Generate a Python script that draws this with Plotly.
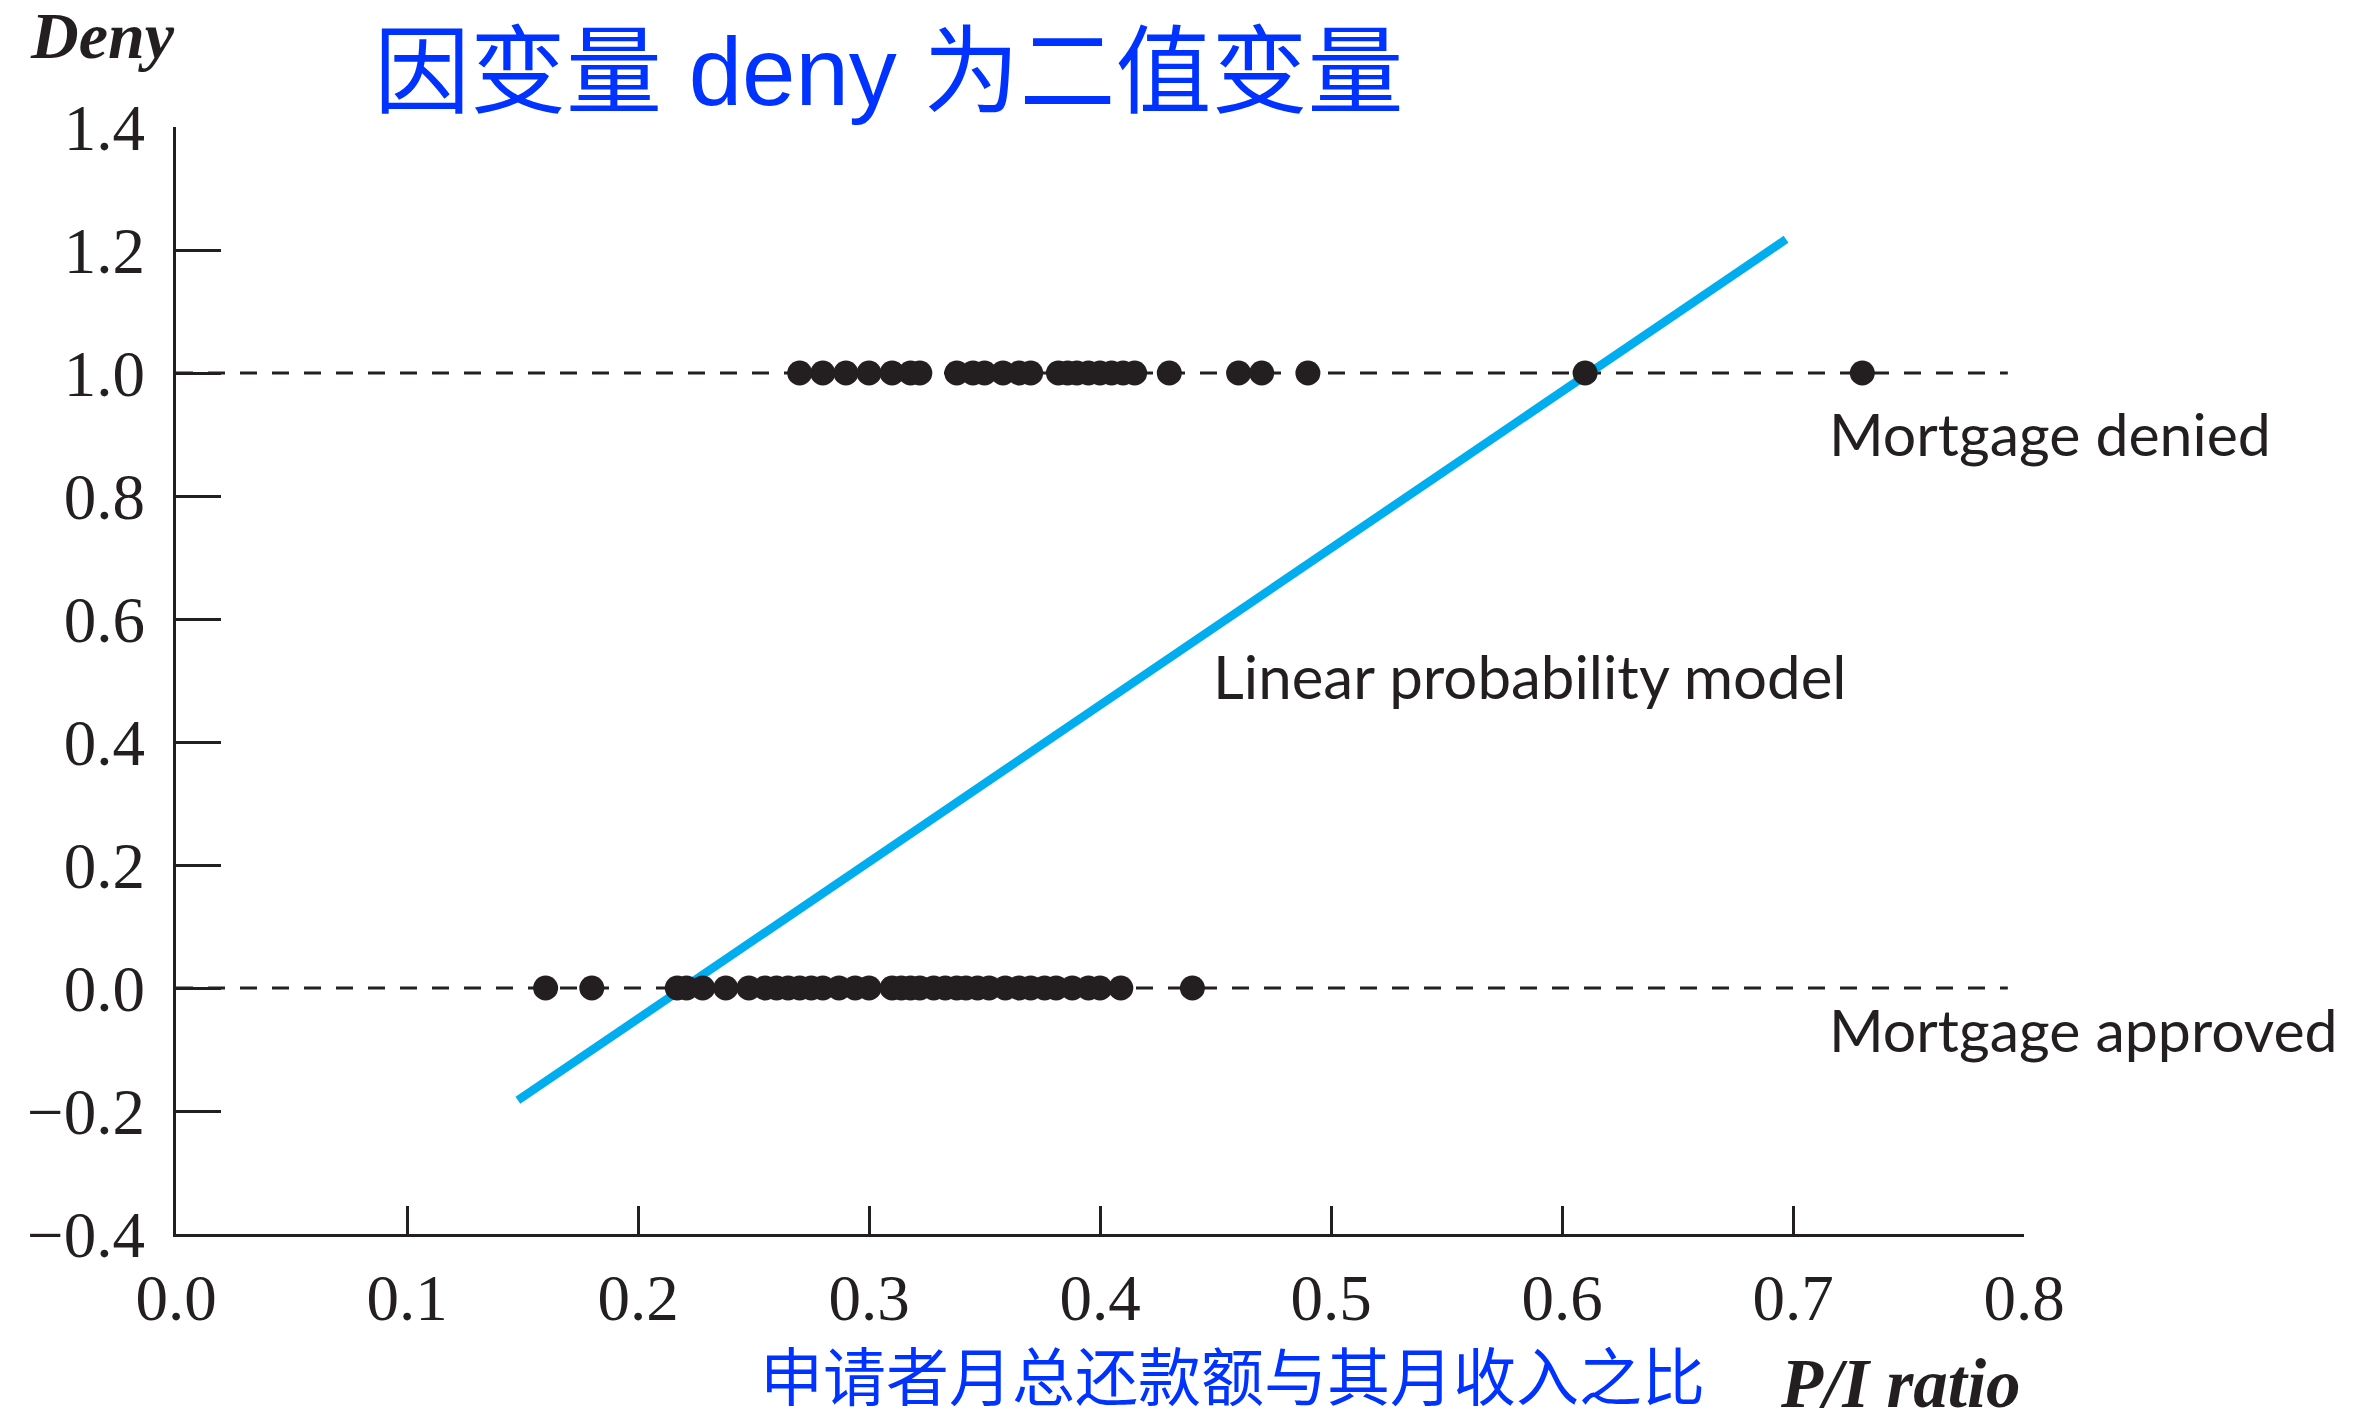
import plotly.graph_objects as go

# ---------------- data ----------------
denied_pi = [0.27, 0.28, 0.29, 0.30, 0.31, 0.318, 0.322, 0.338, 0.345, 0.35, 0.358, 0.365,
             0.37, 0.382, 0.386, 0.39, 0.395, 0.40, 0.405, 0.41, 0.415, 0.43, 0.46, 0.47,
             0.49, 0.61, 0.73]
approved_pi = [0.16, 0.18, 0.217, 0.221, 0.228, 0.238, 0.248, 0.255, 0.26, 0.265, 0.27,
               0.275, 0.28, 0.287, 0.294, 0.30, 0.31, 0.314, 0.318, 0.322, 0.328, 0.333,
               0.338, 0.342, 0.347, 0.352, 0.359, 0.365, 0.37, 0.376, 0.381, 0.388, 0.395,
               0.40, 0.409, 0.44]
lpm_intercept = -0.56
lpm_slope = 2.55
lpm_x = [0.148, 0.697]
ref_x = [0.0, 0.793]
ref_levels = [0.0, 1.0]
x_ticks = [0.0, 0.1, 0.2, 0.3, 0.4, 0.5, 0.6, 0.7, 0.8]
x_ticktext = ["0.0", "0.1", "0.2", "0.3", "0.4", "0.5", "0.6", "0.7", "0.8"]
y_ticks = [-0.4, -0.2, 0.0, 0.2, 0.4, 0.6, 0.8, 1.0, 1.2, 1.4]

title_text = "因变量 deny 为二值变量"
xtitle_cn = "申请者月总还款额与其月收入之比"
xtitle_en = "<b><i>P/I ratio</i></b>"
ytitle = "<b><i>Deny</i></b>"
label_denied = "Mortgage denied"
label_approved = "Mortgage approved"
label_lpm = "Linear probability model"

# ---------------- layout geometry ----------------
W, H = 2366, 1421
L, R, T, B = 176, 342, 127, 187
INK = "#231f20"
BLUE_TXT = "#0033FF"
CYAN = "#00AEEF"
SERIF = "Liberation Serif, Times New Roman, serif"
SANS = "Lato, Open Sans, sans-serif"
CJK = "Liberation Sans, Noto Sans CJK SC, sans-serif"


def px(xp):
    return (xp - L) / (W - L - R)


def py(yp):
    return 1 - (yp - T) / (H - T - B)


fig = go.Figure()

# dashed reference lines at 0 and 1
for lev in ref_levels:
    fig.add_trace(go.Scatter(x=ref_x, y=[lev, lev], mode="lines",
                             line=dict(color=INK, width=3, dash="17px,15px"),
                             hoverinfo="skip", showlegend=False))

# linear probability model line
fig.add_trace(go.Scatter(x=lpm_x, y=[lpm_intercept + lpm_slope * v for v in lpm_x],
                         mode="lines", line=dict(color=CYAN, width=8.5),
                         showlegend=False))

# observations
fig.add_trace(go.Scatter(x=denied_pi, y=[1.0] * len(denied_pi), mode="markers",
                         marker=dict(color=INK, size=25, line=dict(width=0)),
                         showlegend=False, cliponaxis=False))
fig.add_trace(go.Scatter(x=approved_pi, y=[0.0] * len(approved_pi), mode="markers",
                         marker=dict(color=INK, size=25, line=dict(width=0)),
                         showlegend=False, cliponaxis=False))

annotations = [
    dict(text=ytitle, xref="paper", yref="paper", x=px(28), y=py(36),
         xanchor="left", yanchor="middle", showarrow=False,
         font=dict(family=SERIF, size=66, color=INK)),
    dict(text=title_text, xref="paper", yref="paper", x=px(372), y=py(71),
         xanchor="left", yanchor="middle", showarrow=False,
         font=dict(family=CJK, size=96, color=BLUE_TXT)),
    dict(text=xtitle_cn, xref="paper", yref="paper", x=px(758), y=py(1420),
         xanchor="left", yanchor="bottom", showarrow=False,
         font=dict(family="Noto Sans CJK SC", size=63, color=BLUE_TXT)),
    dict(text=xtitle_en, xref="paper", yref="paper", x=px(1778), y=py(1384),
         xanchor="left", yanchor="middle", showarrow=False,
         font=dict(family=SERIF, size=69, color=INK)),
    dict(text=label_denied, xref="x", yref="y", x=0.7146, y=0.902,
         xanchor="left", yanchor="middle", showarrow=False,
         font=dict(family=SANS, size=59, color=INK)),
    dict(text=label_approved, xref="x", yref="y", x=0.7146, y=-0.068,
         xanchor="left", yanchor="middle", showarrow=False,
         font=dict(family=SANS, size=59, color=INK)),
    dict(text=label_lpm, xref="x", yref="y", x=0.448, y=0.507,
         xanchor="left", yanchor="middle", showarrow=False,
         font=dict(family=SANS, size=60, color=INK)),
]

fig.update_layout(
    width=W, height=H, autosize=False,
    margin=dict(l=L, r=R, t=T, b=B, pad=0),
    paper_bgcolor="white", plot_bgcolor="white",
    showlegend=False,
    annotations=annotations,
    xaxis=dict(range=[0, 0.8], tickvals=x_ticks, ticktext=x_ticktext,
               ticks="inside", ticklen=28, tickwidth=3, tickcolor=INK,
               showline=True, linewidth=3, linecolor=INK,
               showgrid=False, zeroline=False, ticklabelstandoff=5,
               tickfont=dict(family=SERIF, size=65, color=INK)),
    yaxis=dict(range=[-0.4, 1.4], tickvals=y_ticks, tickformat=".1f",
               ticks="inside", ticklen=45, tickwidth=3, tickcolor=INK,
               showline=True, linewidth=3, linecolor=INK,
               showgrid=False, zeroline=False, ticklabelstandoff=15,
               tickfont=dict(family=SERIF, size=65, color=INK)),
)

fig.write_html(
    "out.html",
    config={"displayModeBar": False},
    post_script="document.body.style.margin='0px';document.body.style.overflow='hidden';",
)
